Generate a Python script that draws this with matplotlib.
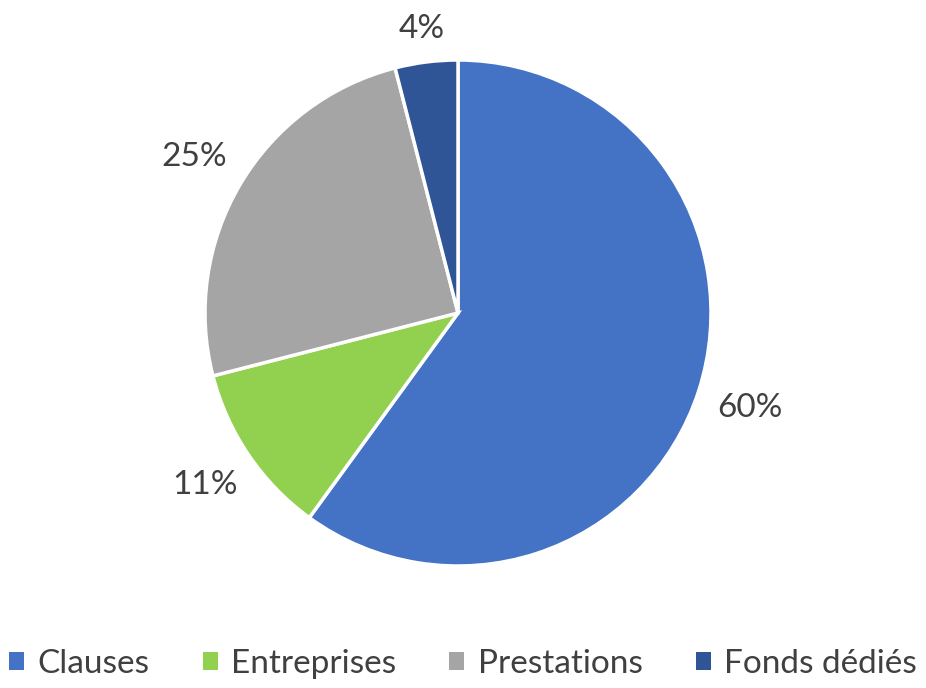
import numpy as np
import matplotlib.pyplot as plt
from matplotlib.patches import Patch

categories = ["Clauses", "Entreprises", "Prestations", "Fonds dédiés"]
values = [60, 11, 25, 4]
pct_labels = ["60%", "11%", "25%", "4%"]
colors = ["#4472C4", "#92D050", "#A5A5A5", "#2F5597"]
text_color = "#404040"

plt.rcParams['font.family'] = ['Lato', 'DejaVu Sans']

W, H = 926, 688
fig = plt.figure(figsize=(W / 100, H / 100), dpi=100)
cx, cy, r = 458, 313, 253
ax = fig.add_axes([(cx - r) / W, (H - cy - r) / H, 2 * r / W, 2 * r / H])

wedges, _ = ax.pie(values, colors=colors, startangle=90, counterclock=False,
                   radius=1, wedgeprops=dict(edgecolor="white", linewidth=2.5))
ax.set_xlim(-1, 1)
ax.set_ylim(-1, 1)
ax.set_aspect("equal")
ax.axis("off")

# percentage labels outside the slices, with a fixed gap to the rim
renderer = fig.canvas.get_renderer()
gap = 20  # px
for w, lab in zip(wedges, pct_labels):
    mid = np.deg2rad((w.theta1 + w.theta2) / 2)
    t = ax.text(0, 0, lab, ha="center", va="center", fontsize=24,
                color=text_color, clip_on=False)
    bb = t.get_window_extent(renderer)
    ext = abs(np.cos(mid)) * bb.width / 2 + abs(np.sin(mid)) * bb.height * 0.35
    d = (r + gap + ext) / r
    t.set_position((d * np.cos(mid), d * np.sin(mid)))

handles = [Patch(facecolor=c, edgecolor="none") for c in colors]
fig.legend(handles, categories, loc="center", ncol=4, frameon=False,
           fontsize=24, labelcolor=text_color, handlelength=0.45, handleheight=0.45,
           handletextpad=0.4, columnspacing=1.6, borderpad=0, borderaxespad=0,
           bbox_to_anchor=(0.5, 0.035))

fig.savefig("out.png", dpi=100)
